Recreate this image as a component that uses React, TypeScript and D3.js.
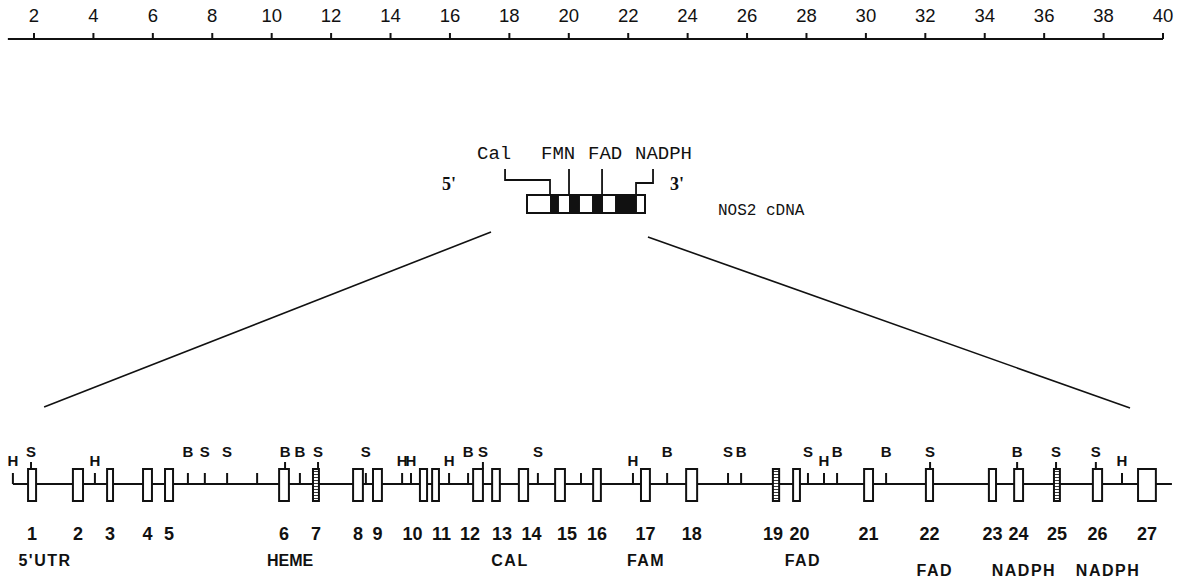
import React from 'react';
import * as d3 from 'd3';

// ---- top kb scale ----
const scaleTicks = [2, 4, 6, 8, 10, 12, 14, 16, 18, 20, 22, 24, 26, 28, 30, 32, 34, 36, 38, 40];

// ---- NOS2 gene exons (kb) ----
const exonIds = [1, 2, 3, 4, 5, 6, 7, 8, 9, 10, 11, 12, 13, 14, 15, 16, 17, 18, 19, 20, 21, 22, 23, 24, 25, 26, 27];
const exonStartKb = [1.80, 3.31, 4.46, 5.67, 6.41, 10.25, 11.39, 12.74, 13.41, 14.99, 15.40, 16.78, 17.42, 18.32, 19.54, 20.82, 22.43, 23.95, 26.87, 27.55, 29.94, 32.02, 34.14, 34.99, 36.33, 37.64, 39.16];
const exonEndKb = [2.07, 3.65, 4.66, 5.97, 6.68, 10.58, 11.59, 13.07, 13.71, 15.23, 15.63, 17.11, 17.68, 18.63, 19.87, 21.08, 22.73, 24.32, 27.08, 27.78, 30.24, 32.26, 34.38, 35.29, 36.53, 37.95, 39.76];
const denseExons = [7, 19, 25];

// ---- restriction sites (kb) ----
const siteKb = [1.29, 1.90, 4.05, 7.18, 7.75, 8.50, 9.51, 10.45, 10.95, 11.56, 13.17, 14.39, 14.69, 15.97, 16.61, 17.11, 18.96, 20.41, 22.16, 23.31, 25.36, 25.80, 28.05, 28.59, 29.03, 30.68, 32.16, 35.09, 36.40, 37.74, 38.62];
const siteEnzyme = ['H', 'S', 'H', 'B', 'S', 'S', '', 'B', 'B', 'S', 'S', 'H', 'H', 'H', 'B', 'S', 'S', '', 'H', 'B', 'S', 'B', 'S', 'H', 'B', 'B', 'S', 'B', 'S', 'S', 'H'];

// ---- domain labels ----
const domainNames = ["5'UTR", 'HEME', 'CAL', 'FAM', 'FAD', 'FAD', 'NADPH', 'NADPH'];
const domainKb = [2.37, 10.62, 18.02, 22.60, 27.88, 32.32, 35.32, 38.15];
const domainRow = [0, 0, 0, 0, 0, 1, 1, 1];

// ---- cDNA schematic ----
const cdnaBreaks = [0, 0.195, 0.271, 0.356, 0.449, 0.551, 0.644, 0.746, 0.932, 1];
const cdnaFilled = [false, true, false, true, false, true, false, true, false];
const cdnaDomains = ['Cal', 'FMN', 'FAD', 'NADPH'];
const cdnaDomainFrac = [0.195, 0.356, 0.636, 0.924];

const geneStartKb = 1.29;
const geneEndKb = 40.3;

const W = 1181;
const H = 583;

export default function App() {
  const x = d3.scaleLinear().domain([2, 40]).range([34, 1163]);
  const c = d3.scaleLinear().domain([0, 1]).range([527, 645]);

  const axisY = 39;
  const lineY = 484;
  const exonTop = 469;
  const exonBot = 501;
  const sans = 'Liberation Sans, Arial, sans-serif';
  const mono = 'Liberation Mono, Courier New, monospace';
  const ink = '#111';

  const labelNudge: Record<number, number> = { 10: -11, 11: 6, 12: -8, 13: 6, 14: 8, 15: 7, 19: -3, 20: 3 };

  const inExon = (px: number) =>
    exonStartKb.some((s, i) => px >= x(s) - 0.5 && px <= x(exonEndKb[i]) + 0.5);

  const boxTop = 195;
  const boxBot = 213;
  const labelBase = 159;
  const lineTop = 169;
  const cdnaLabelStart = [477, 541, 588, 635];

  return (
    <svg
      width={W}
      height={H}
      viewBox={`0 0 ${W} ${H}`}
      style={{ position: 'absolute', left: 0, top: 0, background: '#fff' }}
    >
      <defs>
        <pattern id="hatch" width="3" height="3" patternUnits="userSpaceOnUse">
          <rect width="3" height="3" fill="#fff" />
          <line x1="0" y1="0" x2="3" y2="0" stroke="#222" strokeWidth="1.8" />
        </pattern>
      </defs>

      {/* top scale */}
      <line x1={x(1.12)} x2={x(40)} y1={axisY} y2={axisY} stroke={ink} strokeWidth={2} />
      {scaleTicks.map((t) => (
        <g key={`t${t}`}>
          <line x1={x(t)} x2={x(t)} y1={axisY} y2={axisY - 6} stroke={ink} strokeWidth={2} />
          <text x={x(t)} y={22} textAnchor="middle" fontFamily={sans} fontSize={18.5} fill={ink}>
            {t}
          </text>
        </g>
      ))}

      {/* cDNA labels */}
      {cdnaDomains.map((d, i) => (
        <text key={`cl${i}`} x={cdnaLabelStart[i]} y={labelBase} fontFamily={mono} fontSize={19} fill={ink}>
          {d}
        </text>
      ))}
      <path
        d={`M${c(-0.186)},${lineTop} V180 H${c(cdnaDomainFrac[0])} V${boxTop}`}
        fill="none"
        stroke={ink}
        strokeWidth={1.8}
      />
      {[1, 2].map((i) => (
        <line
          key={`cd${i}`}
          x1={c(cdnaDomainFrac[i])}
          x2={c(cdnaDomainFrac[i])}
          y1={lineTop}
          y2={boxTop}
          stroke={ink}
          strokeWidth={1.8}
        />
      ))}
      <path
        d={`M${c(1.068)},${lineTop} V183 H${c(cdnaDomainFrac[3])} V${boxTop}`}
        fill="none"
        stroke={ink}
        strokeWidth={1.8}
      />
      {cdnaFilled.map((f, i) => (
        <rect
          key={`cb${i}`}
          x={c(cdnaBreaks[i])}
          y={boxTop}
          width={c(cdnaBreaks[i + 1]) - c(cdnaBreaks[i])}
          height={boxBot - boxTop}
          fill={f ? ink : '#fff'}
          stroke="none"
        />
      ))}
      <rect
        x={c(0)}
        y={boxTop}
        width={c(1) - c(0)}
        height={boxBot - boxTop}
        fill="none"
        stroke={ink}
        strokeWidth={2}
      />
      <text x={442} y={190} fontFamily="Liberation Serif, serif" fontWeight="bold" fontSize={18} fill={ink}>
        5'
      </text>
      <text x={670} y={190} fontFamily="Liberation Serif, serif" fontWeight="bold" fontSize={18} fill={ink}>
        3'
      </text>
      <text x={718} y={215} fontFamily={mono} fontSize={16} fill={ink}>
        NOS2 cDNA
      </text>

      {/* expansion lines */}
      <line x1={c(-0.305)} y1={232} x2={x(2.34)} y2={407} stroke={ink} strokeWidth={1.6} />
      <line x1={c(1.025)} y1={237} x2={x(38.89)} y2={408} stroke={ink} strokeWidth={1.6} />

      {/* gene line */}
      <line x1={x(geneStartKb)} x2={x(geneEndKb)} y1={lineY} y2={lineY} stroke={ink} strokeWidth={2} />

      {/* sites */}
      {siteKb.map((k, i) => {
        const px = x(k);
        const on = inExon(px);
        const y1 = on ? exonTop : lineY;
        const y2 = on ? exonTop - 7 : lineY - 11;
        const e = siteEnzyme[i];
        return (
          <g key={`s${i}`}>
            <line x1={px} x2={px} y1={y1} y2={y2} stroke={ink} strokeWidth={2} />
            {e && (
              <text
                x={px}
                y={e === 'H' ? 466 : 457}
                textAnchor="middle"
                fontFamily={sans}
                fontWeight="bold"
                fontSize={15}
                fill={ink}
              >
                {e}
              </text>
            )}
          </g>
        );
      })}

      {/* exons */}
      {exonIds.map((id, i) => {
        const x0 = x(exonStartKb[i]);
        const x1 = x(exonEndKb[i]);
        const dense = denseExons.includes(id);
        return (
          <g key={`e${id}`}>
            <rect
              x={x0}
              y={exonTop}
              width={x1 - x0}
              height={exonBot - exonTop}
              fill={dense ? 'url(#hatch)' : '#fff'}
              stroke={ink}
              strokeWidth={2}
            />
            <text
              x={(x0 + x1) / 2 + (labelNudge[id] || 0)}
              y={540}
              textAnchor="middle"
              fontFamily={sans}
              fontWeight="bold"
              fontSize={18}
              fill={ink}
            >
              {id}
            </text>
          </g>
        );
      })}

      {/* domain labels */}
      {domainNames.map((d, i) => (
        <text
          key={`d${i}`}
          x={x(domainKb[i])}
          y={domainRow[i] === 0 ? 566 : 576}
          textAnchor="middle"
          fontFamily={sans}
          fontWeight="bold"
          fontSize={16}
          letterSpacing={d === 'HEME' ? 0 : 1.5}
          fill={ink}
        >
          {d}
        </text>
      ))}
    </svg>
  );
}
